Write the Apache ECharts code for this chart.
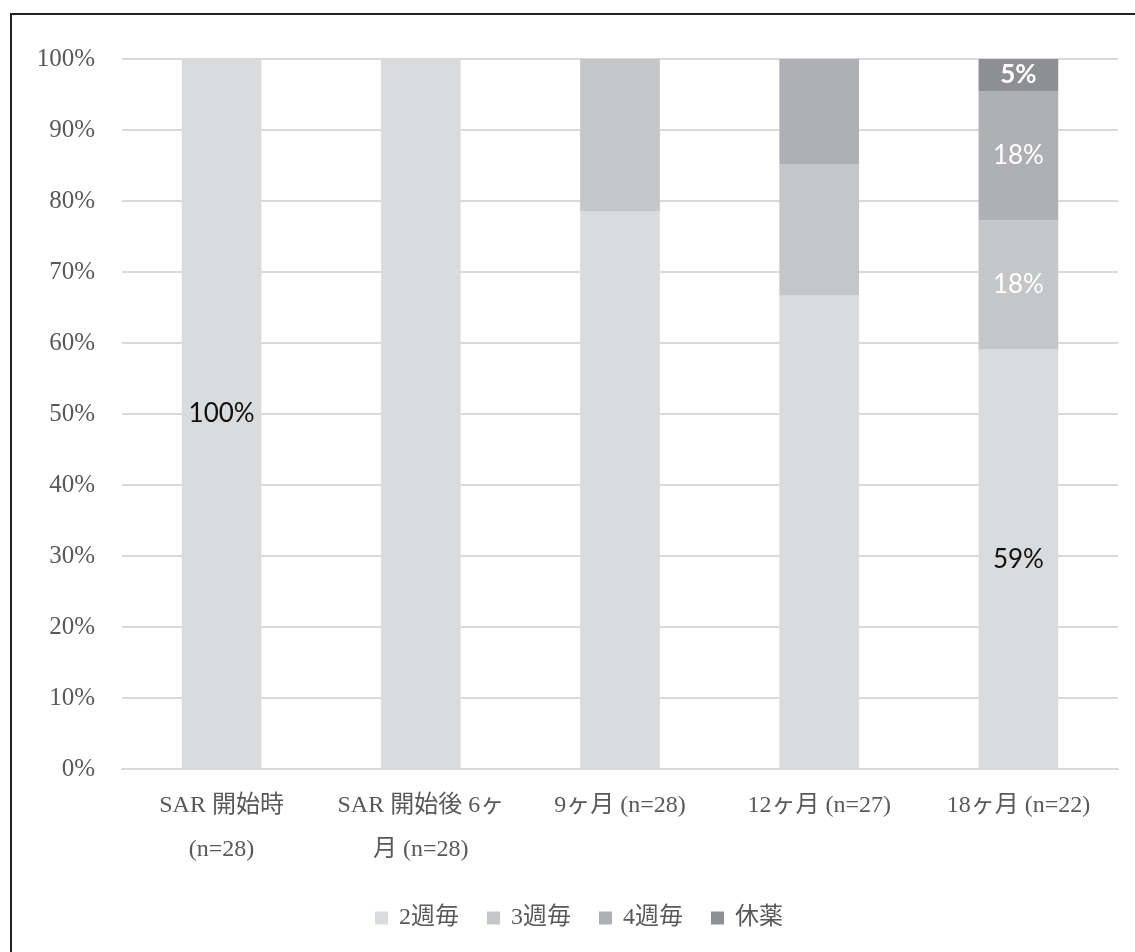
<!DOCTYPE html>
<html><head><meta charset="utf-8">
<script src="https://cdn.jsdelivr.net/npm/echarts@6/dist/echarts.min.js"></script>
<style>
html,body{margin:0;padding:0;background:#fff;}
#frame{position:absolute;left:10px;top:13px;width:1125px;height:939px;border-left:2px solid #222;border-top:2px solid #222;box-sizing:border-box;}
#main{position:absolute;left:0;top:0;width:1135px;height:952px;}
</style></head>
<body>
<div id="frame"></div>
<div id="main"></div>
<script>
const categories = ['SAR 開始時\n(n=28)', 'SAR 開始後 6ヶ\n月 (n=28)', '9ヶ月 (n=28)', '12ヶ月 (n=27)', '18ヶ月 (n=22)'];
const seriesNames = ['2週毎', '3週毎', '4週毎', '休薬'];
const every2w = [100, 100, 78.6, 66.7, 59.1];
const every3w = [0, 0, 21.4, 18.5, 18.2];
const every4w = [0, 0, 0, 14.8, 18.2];
const paused = [0, 0, 0, 0, 4.5];
const yTicks = [0, 10, 20, 30, 40, 50, 60, 70, 80, 90, 100];
// which bars carry a visible label, per series
const showLabel2w = [true, false, false, false, true];
const showLabel3w = [false, false, false, false, true];
const showLabel4w = [false, false, false, false, true];
const showLabelPaused = [false, false, false, false, true];

const colors = ['#dadbdd', '#c5c6c8', '#afb0b3', '#8e8f92'];
const serif = '"Liberation Serif", "Noto Sans CJK JP", serif';
const sans = 'Lato, "Open Sans", sans-serif';

function mk(values, flags, labelColor, weight) {
  return values.map((v, i) => ({
    value: v,
    label: {show: flags[i], color: labelColor, fontWeight: weight}
  }));
}

const data = [every2w, every3w, every4w, paused];
const flags = [showLabel2w, showLabel3w, showLabel4w, showLabelPaused];
const labelColors = ['#111111', '#ffffff', '#ffffff', '#ffffff'];
const weights = ['normal', 'normal', 'normal', 'bold'];

const chart = echarts.init(document.getElementById('main'), null, {renderer: 'canvas'});
chart.setOption({
  animation: false,
  color: colors,
  grid: {left: 122, right: 17, top: 59, bottom: 183},
  legend: {
    bottom: 17, left: 370,
    itemWidth: 13, itemHeight: 13, itemGap: 28,
    icon: 'rect',
    textStyle: {fontFamily: serif, fontSize: 24, color: '#595959', padding: [0, 0, 0, 6]},
    data: seriesNames
  },
  xAxis: {
    type: 'category', data: categories,
    axisLine: {lineStyle: {color: '#d9d9d9', width: 2}},
    axisTick: {show: false},
    axisLabel: {fontFamily: serif, fontSize: 24, color: '#595959', margin: 15, lineHeight: 44, interval: 0}
  },
  yAxis: {
    type: 'value', min: 0, max: 100, interval: 10,
    axisLine: {show: false}, axisTick: {show: false},
    splitLine: {lineStyle: {color: '#d9d9d9', width: 2}},
    axisLabel: {fontFamily: serif, fontSize: 25, color: '#595959', margin: 27,
      formatter: v => yTicks.includes(v) ? v + '%' : ''}
  },
  series: seriesNames.map((name, k) => ({
    name, type: 'bar', stack: 'total', barWidth: '40%',
    data: mk(data[k], flags[k], labelColors[k], weights[k]),
    label: {position: 'inside', fontFamily: sans, fontSize: 26,
      formatter: p => Math.round(p.value) + '%'},
    itemStyle: {color: colors[k]}
  }))
});
</script>
</body></html>
